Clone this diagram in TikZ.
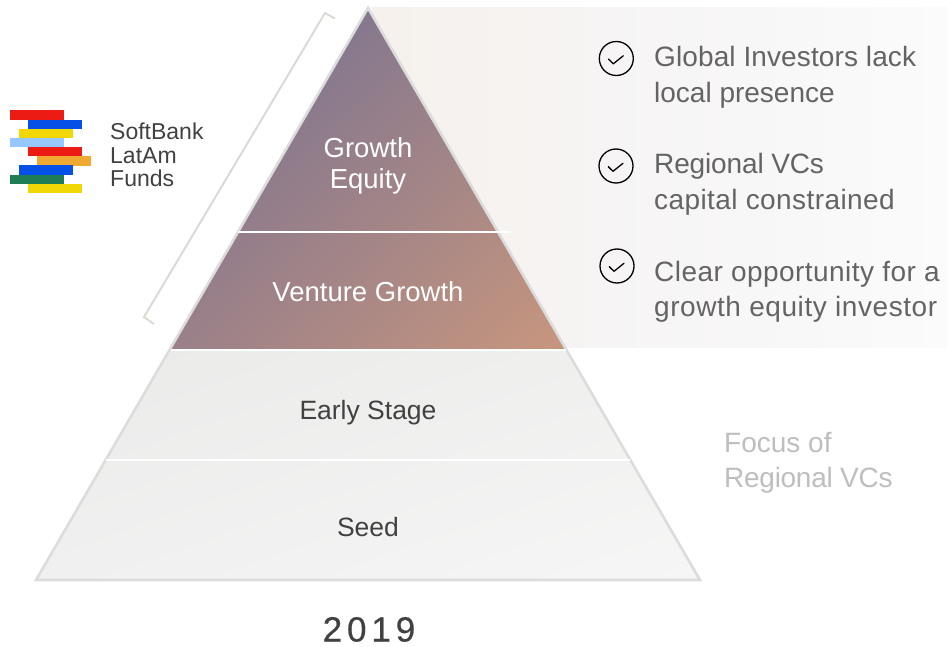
\documentclass[tikz,border=0pt]{standalone}
\usepackage{fontspec}
\usetikzlibrary{shadings}
\setmainfont{Liberation Sans}
\definecolor{UL}{RGB}{110,109,147}
\definecolor{UR}{RGB}{156,131,136}
\definecolor{LL}{RGB}{154,128,137}
\definecolor{LR}{RGB}{200,150,126}
\definecolor{edgegrey}{RGB}{220,220,220}
\definecolor{bracketgrey}{RGB}{218,218,213}
\definecolor{bodytext}{RGB}{100,100,100}
\definecolor{darktext}{RGB}{65,65,65}
\definecolor{focustext}{RGB}{190,190,190}
\definecolor{panelL}{RGB}{246,241,236}
\definecolor{panelM}{RGB}{246,244,244}
\definecolor{panelR}{RGB}{251,251,251}
\definecolor{lowUL}{RGB}{234,234,233}
\definecolor{lowUR}{RGB}{240,240,239}
\definecolor{lowLL}{RGB}{240,240,240}
\definecolor{lowLR}{RGB}{246,246,246}
\definecolor{logored}{RGB}{236,28,20}
\definecolor{logoblue}{RGB}{5,80,230}
\definecolor{logoyellow}{RGB}{240,215,5}
\definecolor{logosky}{RGB}{150,200,255}
\definecolor{logoorange}{RGB}{240,170,50}
\definecolor{logogreen}{RGB}{30,125,85}
\tikzset{
  bullet/.style={font=\fontsize{28}{28}\selectfont,text=bodytext,anchor=base west,inner sep=0pt},
  tier/.style={font=\fontsize{26.5}{26.5}\selectfont,anchor=base,inner sep=0pt},
  tierbig/.style={font=\fontsize{27.5}{27.5}\selectfont,anchor=base,inner sep=0pt,text=white},
  logotext/.style={font=\fontsize{23}{23}\selectfont,text=darktext,anchor=base west,inner sep=0pt},
  checkcircle/.style={circle,draw=black,line width=1.3pt,minimum size=34pt,inner sep=0pt},
  checkmark/.style={draw=black,line width=1.3pt,line cap=round,line join=round},
  divider/.style={draw=white,line width=2pt},
}
\newcommand{\logobar}[4]{\fill[#4] (#1,#3) rectangle (#2,#3+9.3);}
\begin{document}
\begin{tikzpicture}[x=1pt,y=-1pt]
\useasboundingbox (0,0) rectangle (947,647);
% panel
\shade[left color=panelL,right color=panelM] (372,8) rectangle (600,347);
\shade[left color=panelM,right color=panelR] (599.5,8) rectangle (947,347);
% upper pyramid
\shade[shading=bilinear interpolation,upper left=UL,upper right=UR,lower left=LL,lower right=LR] (368,8) -- (566,349) -- (170,349) -- cycle;
% lower pyramid
\shade[shading=bilinear interpolation,upper left=lowUL,upper right=lowUR,lower left=lowLL,lower right=lowLR] (170,349) -- (566,349) -- (700,580) -- (36,580) -- cycle;
% outline
\draw[edgegrey,line width=2.6pt,line join=miter] (368,8) -- (700,580) -- (36,580) -- cycle;
% dividers
\draw[divider] (238,232) -- (510,232);
\draw[divider] (171,349.5) -- (566,349.5);
\draw[divider] (106,460) -- (630,460);
% bracket
\draw[bracketgrey,line width=2pt] (335,18.5) -- (325,13) -- (144,317) -- (154,324);
% logo
\logobar{10}{64}{110.5}{logored}
\logobar{28}{82}{120}{logoblue}
\logobar{18.5}{73}{129}{logoyellow}
\logobar{10}{64}{138}{logosky}
\logobar{28}{82}{147}{logored}
\logobar{37}{91}{156.5}{logoorange}
\logobar{18.5}{73}{165.5}{logoblue}
\logobar{10}{64}{174.7}{logogreen}
\logobar{28}{82}{184}{logoyellow}
\node[logotext] (lg1) at (110,140) {SoftBank};
\node[logotext] (lg2) at (110,164) {LatAm};
\node[logotext] (lg3) at (110,186) {Funds};
% tier labels
\node[tierbig] (t1) at (368,158) {Growth};
\node[tierbig] (t2) at (368,189) {Equity};
\node[tierbig] (t3) at (368,301) {Venture Growth};
\node[tier,text=darktext] (t4) at (368,419) {Early Stage};
\node[tier,text=darktext] (t5) at (368,536) {Seed};
\node[anchor=base,inner sep=0pt,text depth=0pt,text=darktext,font=\fontsize{35}{35}\selectfont\addfontfeatures{LetterSpace=14,FakeBold=0.6}] (yr) at (369,641.5) {2019};
% checks
\node[checkcircle] (c1) at (616.3,58.5) {};
\node[checkcircle] (c2) at (616,166) {};
\node[checkcircle] (c3) at (617,266) {};
\foreach \c in {c1,c2,c3}
  \draw[checkmark] ([shift={(-7.7,0.7)}]\c.center) -- ([shift={(-3,5.3)}]\c.center) -- ([shift={(7,-2.7)}]\c.center);
% bullets
\node[bullet] (b1) at (654,67) {\addfontfeatures{LetterSpace=0.4}Global Investors lack};
\node[bullet] (b1b) at (654,103) {local presence};
\node[bullet] (b2) at (654,174) {\addfontfeatures{LetterSpace=-0.5}Regional VCs};
\node[bullet] (b2b) at (654,209) {\addfontfeatures{LetterSpace=1.5}capital constrained};
\node[bullet] (b3) at (654,281) {\addfontfeatures{LetterSpace=1.6}Clear opportunity for a};
\node[bullet] (b3b) at (654,316) {\addfontfeatures{LetterSpace=2}growth equity investor};
% focus
\node[bullet,text=focustext] (f1) at (724,452) {Focus of};
\node[bullet,text=focustext] (f2) at (724,487) {\addfontfeatures{LetterSpace=-1}Regional VCs};
\end{tikzpicture}
\end{document}
